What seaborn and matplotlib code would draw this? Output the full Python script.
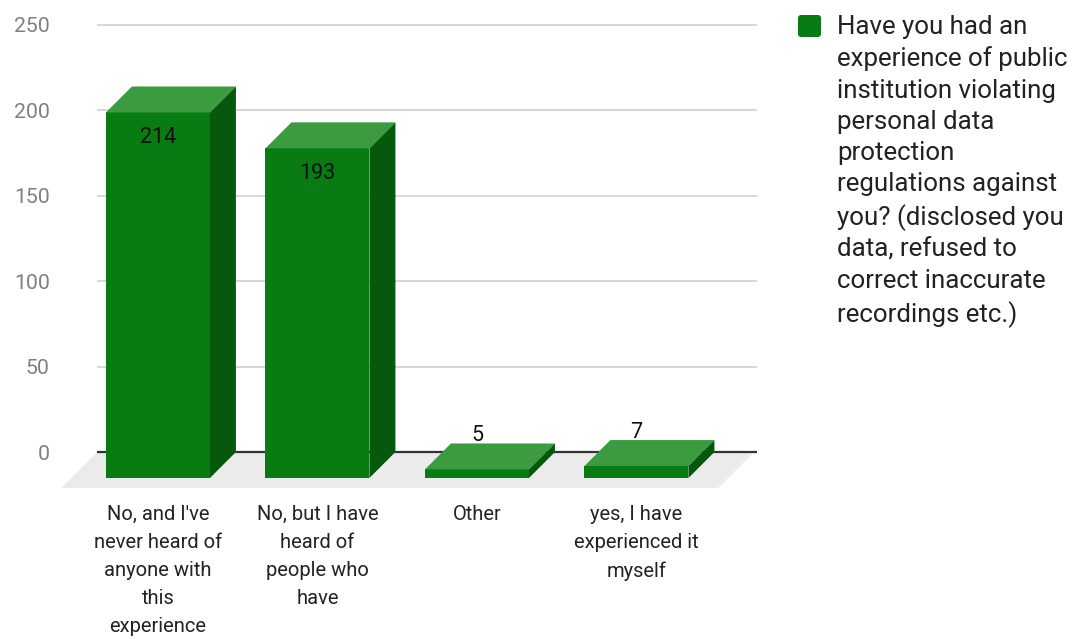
import textwrap

import matplotlib
matplotlib.use("Agg")
import matplotlib.pyplot as plt
import pandas as pd
import seaborn as sns
from matplotlib.patches import FancyBboxPatch, Polygon
from matplotlib.transforms import IdentityTransform, ScaledTranslation

# ---- data -------------------------------------------------------------
answers = [
    "No, and I've never heard of anyone with this experience",
    "No, but I have heard of people who have",
    "Other",
    "yes, I have experienced it myself",
]
counts = [214, 193, 5, 7]
y_ticks = [0, 50, 100, 150, 200, 250]
series_name = ("Have you had an experience of public institution violating "
               "personal data protection regulations against you? "
               "(disclosed you data, refused to correct inaccurate "
               "recordings etc.)")

# ---- style ------------------------------------------------------------
FRONT = "#087b12"
TOP = "#3c9a41"
SIDE = "#06580d"
FLOOR = "#ebebeb"
GRID = "#cccccc"
DEPTH_PX = 26        # depth of the bar boxes
FLOOR_PX = 36        # depth of the floor plane
DPI = 100

sns.set_theme(style="white")
plt.rcParams["font.family"] = ["Roboto", "DejaVu Sans"]

fig = plt.figure(figsize=(10.75, 6.39), dpi=DPI)
fig.patch.set_facecolor("white")
ax = fig.add_axes([97 / 1075, 149.4 / 639, 660 / 1075, 485.1 / 639])

df = pd.DataFrame({"answer": [textwrap.fill(a, 14) for a in answers],
                   "count": counts})
sns.barplot(data=df, x="answer", y="count", ax=ax, color=FRONT,
            saturation=1, width=0.652, zorder=3, linewidth=0)

ax.set_xlim(-0.545, 3.593)
ax.set_ylim(-22, 262)
ax.set_xlabel("")
ax.set_ylabel("")
for s in ax.spines.values():
    s.set_visible(False)

# gridlines on the back wall
ax.set_yticks(y_ticks)
ax.grid(axis="y", color=GRID, linewidth=1.1, zorder=0)
ax.grid(axis="x", visible=False)
ax.set_axisbelow(True)
ax.axhline(0, color="#333333", linewidth=1.6, zorder=2)
ax.tick_params(axis="y", length=0, pad=34, labelsize=15.3, labelcolor="#808080")
ax.tick_params(axis="x", length=0, pad=11, labelsize=14.5, labelcolor="#222222")

# depth offsets expressed in data units
p0 = ax.transData.transform((0, 0))
p1 = ax.transData.transform((1, 1))
ux, uy = p1[0] - p0[0], p1[1] - p0[1]
ddx, ddy = DEPTH_PX / ux, DEPTH_PX / uy
fdx, fdy = FLOOR_PX / ux, FLOOR_PX / uy

# floor plane
x_left, x_right = ax.get_xlim()[0], ax.get_xlim()[0] + 657 / ux
ax.add_patch(Polygon([(x_left, 0), (x_right, 0),
                      (x_right - fdx, -fdy), (x_left - fdx, -fdy)],
                     closed=True, facecolor=FLOOR, edgecolor="none",
                     zorder=1, clip_on=False))

# extrude each bar: the seaborn bar becomes the front face
for patch, value in zip(ax.patches[:len(counts)], counts):
    x, w, h = patch.get_x(), patch.get_width(), patch.get_height()
    patch.set_x(x - ddx)
    patch.set_y(-ddy)
    ax.add_patch(Polygon([(x - ddx, h - ddy), (x - ddx + w, h - ddy),
                          (x + w, h), (x, h)],
                         closed=True, facecolor=TOP, edgecolor="none",
                         zorder=3))
    ax.add_patch(Polygon([(x - ddx + w, -ddy), (x + w, 0), (x + w, h),
                          (x - ddx + w, h - ddy)],
                         closed=True, facecolor=SIDE, edgecolor="none",
                         zorder=3))
    xc = x - ddx + w / 2
    if h * uy > 60:
        ax.annotate(f"{value}", xy=(xc, h - ddy), xytext=(0, -10.5),
                    textcoords="offset points", ha="center", va="top",
                    fontsize=15.5, color="#111111", zorder=4)
    else:
        ax.annotate(f"{value}", xy=(xc, h), xytext=(0, -2),
                    textcoords="offset points", ha="center", va="bottom",
                    fontsize=15.5, color="#111111", zorder=4)

# category labels sit under the front faces
shift = ScaledTranslation(-DEPTH_PX / DPI, 0, fig.dpi_scale_trans)
for lbl in ax.get_xticklabels():
    lbl.set_transform(lbl.get_transform() + shift)
    lbl.set_linespacing(1.6)

# legend
fig.add_artist(FancyBboxPatch((798, 639 - 37), 23, 22,
                              boxstyle="round,pad=0,rounding_size=3",
                              facecolor=FRONT, edgecolor="none",
                              transform=IdentityTransform()))
fig.text(837 / 1075, 1 - 15 / 639, textwrap.fill(series_name, 21),
         ha="left", va="top", fontsize=18.6, color="#222222",
         linespacing=1.375)

fig.savefig("out.png", dpi=DPI)
